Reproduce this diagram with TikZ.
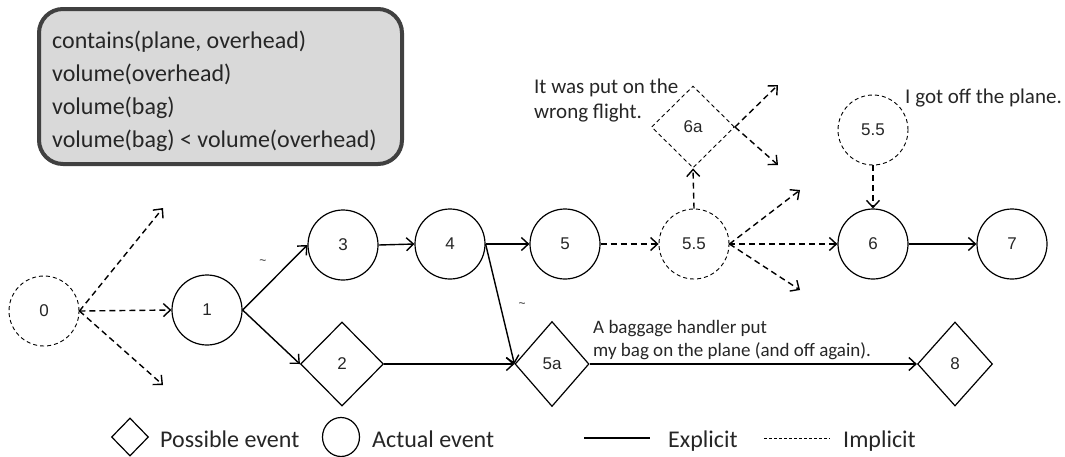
\documentclass[tikz,border=0pt]{standalone}
\usepackage{fontspec}
\setmainfont{Carlito}
\newfontfamily\arialf{Liberation Sans}
\usetikzlibrary{arrows.meta,shapes.geometric}
\definecolor{boxfill}{HTML}{D9D9D9}
\definecolor{boxline}{HTML}{404040}
\definecolor{txt}{HTML}{262626}
\begin{document}
\begin{tikzpicture}[x=1pt,y=-1pt,
  every node/.style={text=txt},
  lbl/.style={font=\arialf\fontsize{17}{20}\selectfont},
  act/.style={circle, draw, line width=1.2pt, minimum size=70pt, inner sep=0pt, lbl},
  actd/.style={act, line width=0.9pt, dash pattern=on 4pt off 3pt},
  poss/.style={diamond, draw, line width=1.2pt, inner sep=0pt, lbl},
  possd/.style={poss, line width=0.9pt, dash pattern=on 4pt off 3pt},
  sol/.style={line width=1.4pt, -{Straight Barb[length=7pt,width=13pt,line width=1.4pt]}},
  imp/.style={sol, dash pattern=on 6pt off 4pt},
  ann/.style={font=\fontsize{21}{25}\selectfont, anchor=base west, inner sep=0pt},
  bann/.style={font=\fontsize{19}{23}\selectfont, anchor=base west, inner sep=0pt},
  leg/.style={font=\fontsize{24}{28}\selectfont, anchor=base west, inner sep=0pt},
  boxt/.style={font=\fontsize{24}{28}\selectfont, anchor=base west, inner sep=0pt},
  tld/.style={font=\arialf\fontsize{12}{14}\selectfont, inner sep=0pt},
]
\useasboundingbox (0,0) rectangle (1065,456);

% condition box
\node (box) [draw=boxline, fill=boxfill, line width=4pt, rounded corners=24pt,
  minimum width=363pt, minimum height=155pt, inner sep=0pt] at (220.5,86.5) {};
\node (c1) [boxt] at (52,48) {contains(plane, overhead)};
\node (c2) [boxt] at (52,81) {volume(overhead)};
\node (c3) [boxt] at (52,114) {volume(bag)};
\node (c4) [boxt] at (52,147) {volume(bag) < volume(overhead)};

% events
\node (n0) [actd] at (44,311) {0};
\node (n1) [act] at (207,310) {1};
\node (n3) [act] at (343,245) {3};
\node (n2) [poss, minimum width=83pt, minimum height=84pt] at (342,364) {2};
\node (n4) [act] at (450,244) {4};
\node (n5) [act] at (565,244) {5};
\node (n55) [actd] at (694,244) {5.5};
\node (n6a) [possd, minimum width=83pt, minimum height=82pt] at (693,127) {6a};
\node (n6) [act] at (873,244) {6};
\node (n7) [act] at (1012,244) {7};
\node (n55b) [actd] at (873,130) {5.5};
\node (n5a) [poss, minimum width=74pt, minimum height=85pt] at (552,364) {5a};
\node (n8) [poss, minimum width=75pt, minimum height=84pt] at (955,364) {8};

% free ends of the fans
\coordinate (f0u) at (163,208);
\coordinate (f0d) at (163,385);
\coordinate (f55u) at (800,190);
\coordinate (f55d) at (800,290);
\coordinate (f6au) at (778,85);
\coordinate (f6ad) at (778,165);

% implicit connectors
\draw[imp] (n0.east) -- (n1.west);
\draw[imp] (n0.east) -- (f0u);
\draw[imp] (n0.east) -- (f0d);
\draw[imp] (n5.east) -- (n55.west);
\draw[imp] (n55.east) -- (n6.west);
\draw[imp] (n55.east) -- (f55u);
\draw[imp] (n55.east) -- (f55d);
\draw[imp] (n55.north) -- (n6a.south);
\draw[imp] (n6a.east) -- (f6au);
\draw[imp] (n6a.east) -- (f6ad);
\draw[imp] (n55b.south) -- (n6.north);

% explicit connectors
\draw[sol] (n1.east) -- (n3.west);
\draw[sol] (n1.east) -- (n2.west);
\draw[sol] (n3.east) -- (n4.west);
\draw[sol] (n4.east) -- (n5.west);
\draw[sol] (n4.east) -- (n5a.west);
\draw[sol] (n2.east) -- (n5a.west);
\draw[sol] (n5a.east) -- (n8.west);
\draw[sol] (n6.east) -- (n7.west);

% tildes
\node (t1) [tld] at (263,262) {\textasciitilde};
\node (t2) [tld] at (522,305) {\textasciitilde};

% annotations
\node (a1) [ann] at (534,93) {It was put on the};
\node (a2) [ann] at (534,118) {wrong flight.};
\node (a3) [ann] at (905,103) {I got off the plane.};
\node (a4) [bann] at (593,333) {A baggage handler put};
\node (a5) [bann] at (593,356) {my bag on the plane (and off again).};

% legend
\node (lp) [diamond, draw, line width=1.2pt, inner sep=0pt, minimum width=37pt, minimum height=38pt] at (130,437) {};
\node (lpt) [leg] at (160,447) {Possible event};
\node (la) [ellipse, draw, line width=1.2pt, inner sep=0pt, minimum width=37pt, minimum height=39pt] at (341,437) {};
\node (lat) [leg] at (372,447) {Actual event};
\coordinate (le1) at (584,438);
\coordinate (le2) at (650,438);
\draw[line width=1.4pt] (le1) -- (le2);
\node (let) [leg] at (668,447) {Explicit};
\coordinate (li1) at (764,438);
\coordinate (li2) at (830,438);
\draw[line width=1pt, dash pattern=on 3pt off 2pt] (li1) -- (li2);
\node (lit) [leg] at (843,447) {Implicit};
\end{tikzpicture}
\end{document}
